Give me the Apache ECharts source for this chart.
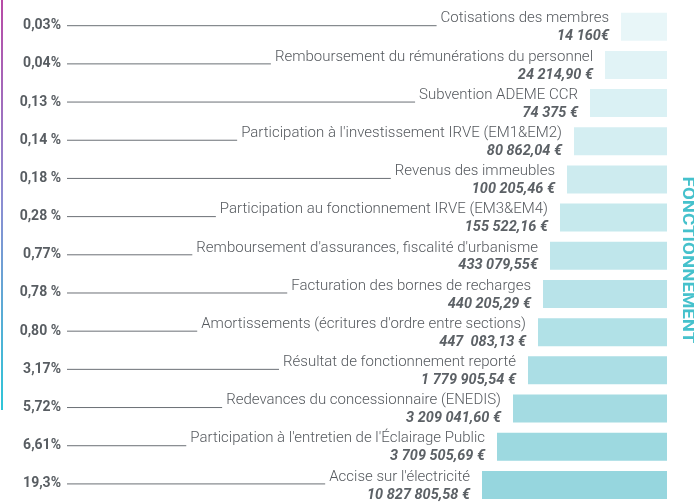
<!DOCTYPE html>
<html><head><meta charset="utf-8">
<script src="https://cdn.jsdelivr.net/npm/echarts@6/dist/echarts.min.js"></script>
<style>html,body{margin:0;padding:0;background:#fff}#c{width:694px;height:504px}</style>
</head><body><div id="c"></div>
<script>
const categories = [
  "Cotisations des membres",
  "Remboursement du rémunérations du personnel",
  "Subvention ADEME CCR",
  "Participation à l'investissement IRVE (EM1&EM2)",
  "Revenus des immeubles",
  "Participation au fonctionnement IRVE (EM3&EM4)",
  "Remboursement d'assurances, fiscalité d'urbanisme",
  "Facturation des bornes de recharges",
  "Amortissements (écritures d'ordre entre sections)",
  "Résultat de fonctionnement reporté",
  "Redevances du concessionnaire (ENEDIS)",
  "Participation à l'entretien de l'Éclairage Public",
  "Accise sur l'électricité"
];
const amounts = [
  "14 160€", "24 214,90 €", "74 375 €", "80 862,04 €", "100 205,46 €",
  "155 522,16 €", "433 079,55€", "440 205,29 €", "447  083,13 €",
  "1 779 905,54 €", "3 209 041,60 €", "3 709 505,69 €", "10 827 805,58 €"
];
const percents = [
  "0,03%", "0,04%", "0,13 %", "0,14 %", "0,18 %", "0,28 %", "0,77%",
  "0,78 %", "0,80 %", "3,17%", "5,72%", "6,61%", "19,3%"
];
// decorative bar lengths as drawn in the reference (not proportional to amounts)
const barLengths = [46, 62, 77, 93, 100, 107, 117, 124, 129, 139, 154, 170, 185];
const sectionTitle = "FONCTIONNEMENT";

const NAME_FONT = '300 15px Roboto';
const cv = document.createElement('canvas').getContext('2d');
function tw(t, f) { cv.font = f; return cv.measureText(t).width; }

function barColor(i) {
  const a = [232, 246, 248], b = [150, 214, 222];
  const t = i / (barLengths.length - 1);
  const c = a.map((v, k) => Math.round(v + (b[k] - v) * t));
  return 'rgb(' + c.join(',') + ')';
}

const chart = echarts.init(document.getElementById('c'), null, { renderer: 'canvas' });
chart.setOption({
  animation: false,
  grid: { left: 467, right: 27, top: 7.6, height: 503.75, containLabel: false },
  xAxis: { type: 'value', min: 0, max: 200, inverse: true, show: false },
  yAxis: { type: 'category', data: categories, inverse: true, show: false },
  series: [
    {
      type: 'bar', barWidth: 28, silent: true,
      data: barLengths.map((v, i) => ({ value: v, itemStyle: { color: barColor(i) } }))
    },
    {
      type: 'custom', clip: false, silent: true,
      data: barLengths.map((v, i) => [v, i]),
      encode: { x: 0, y: 1 },
      renderItem: function (params, api) {
        const i = params.dataIndex;
        const p = api.coord([api.value(0), i]);
        const right = p[0] - 12;
        const y = p[1];
        const name = categories[i];
        const w = tw(name, NAME_FONT);
        return {
          type: 'group',
          children: [
            { type: 'text', style: { text: percents[i], x: 61, y: y - 1, align: 'right', verticalAlign: 'middle',
                font: 'bold 14px Roboto', fill: '#585d62' } },
            { type: 'line', shape: { x1: 67, y1: y - 1, x2: right - w - 4, y2: y - 1 },
              style: { stroke: '#6b7075', lineWidth: 1 } },
            { type: 'text', style: { text: name, x: right, y: y - 8, align: 'right', verticalAlign: 'middle',
                font: NAME_FONT, fill: '#55595e' } },
            { type: 'text', style: { text: amounts[i], x: right, y: y + 10, align: 'right', verticalAlign: 'middle',
                font: 'italic bold 14.5px Roboto', fill: '#5c6166' } }
          ]
        };
      }
    }
  ],
  graphic: [
    { type: 'rect', shape: { x: 1, y: 0, width: 2, height: 410 }, silent: true,
      style: { fill: new echarts.graphic.LinearGradient(0, 0, 0, 1, [
        { offset: 0, color: '#b84aa6' }, { offset: 0.5, color: '#8a8ed2' }, { offset: 1, color: '#2ec6d8' }]) } },
    { type: 'text', x: 687, y: 260, rotation: -Math.PI / 2, scaleX: 1.17, silent: true,
      style: { text: sectionTitle, align: 'center', verticalAlign: 'middle',
        font: 'bold 16px Roboto', fill: '#45c1cc' } }
  ]
});
</script></body></html>
